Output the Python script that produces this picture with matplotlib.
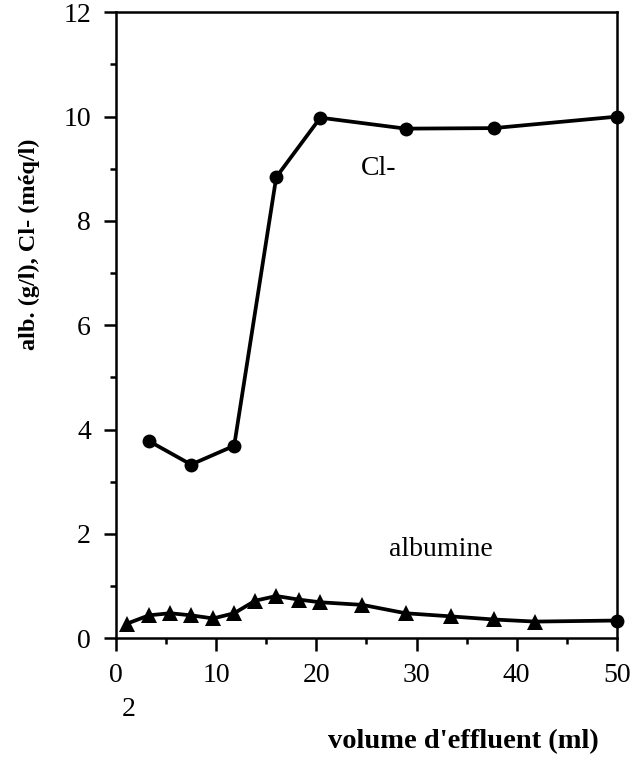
import matplotlib.pyplot as plt
from matplotlib.ticker import MultipleLocator

# volume d'effluent (ml) for each measurement
cl_volume = [3.3, 7.5, 11.8, 16.0, 20.4, 28.9, 37.7, 50.0]
cl_conc = [3.78, 3.33, 3.69, 8.84, 9.98, 9.77, 9.78, 10.0]

alb_volume = [1.1, 3.3, 5.4, 7.5, 9.7, 11.8, 13.9, 16.0, 18.3, 20.4,
              24.6, 28.9, 33.4, 37.7, 41.8, 50.0]
alb_conc = [0.28, 0.44, 0.48, 0.44, 0.38, 0.48, 0.72, 0.81, 0.74, 0.69,
            0.64, 0.48, 0.42, 0.36, 0.32, 0.34]

x_ticks = [0, 10, 20, 30, 40, 50]
y_ticks = [0, 2, 4, 6, 8, 10, 12]

plt.rcParams["font.family"] = ["Liberation Serif", "DejaVu Serif"]

fig = plt.figure(figsize=(6.44, 7.69), dpi=100)
ax = fig.add_axes([0.180, 0.170, 0.778, 0.814])

ax.plot(cl_volume, cl_conc, color="black", lw=2.7, marker="o", ms=10,
        markeredgewidth=0)
ax.plot(alb_volume[:-1], alb_conc[:-1], color="black", lw=2.7, marker="^",
        ms=11, markeredgewidth=0)
ax.plot(alb_volume[-2:], alb_conc[-2:], color="black", lw=2.7)
ax.plot(alb_volume[-1:], alb_conc[-1:], color="black", marker="o", ms=10,
        markeredgewidth=0)

ax.set_xlim(0, 50)
ax.set_ylim(0, 12)
ax.set_xticks(x_ticks)
ax.set_yticks(y_ticks)
ax.xaxis.set_minor_locator(MultipleLocator(5))
ax.yaxis.set_minor_locator(MultipleLocator(1))
ax.tick_params(which="major", direction="out", length=9, width=1.8,
               labelsize=20, pad=9)
ax.tick_params(which="minor", direction="out", length=4, width=1.8)
for spine in ax.spines.values():
    spine.set_linewidth(1.8)
for line in ax.lines:
    line.set_clip_on(False)

ax.text(26.2, 9.0, "Cl-", fontsize=20, ha="center", va="center")
ax.text(32.4, 1.7, "albumine", fontsize=20, ha="center", va="center")

fig.text(0.045, 0.683, "alb. (g/l), Cl- (méq/l)", rotation=90,
         fontsize=17.5, fontweight="bold", ha="center", va="center")
fig.text(0.72, 0.035, "volume d'effluent (ml)", fontsize=20.5,
         fontweight="bold", ha="center", va="center")
fig.text(0.2, 0.077, "2", fontsize=20, ha="center", va="center")

fig.savefig("out.png", dpi=100)
